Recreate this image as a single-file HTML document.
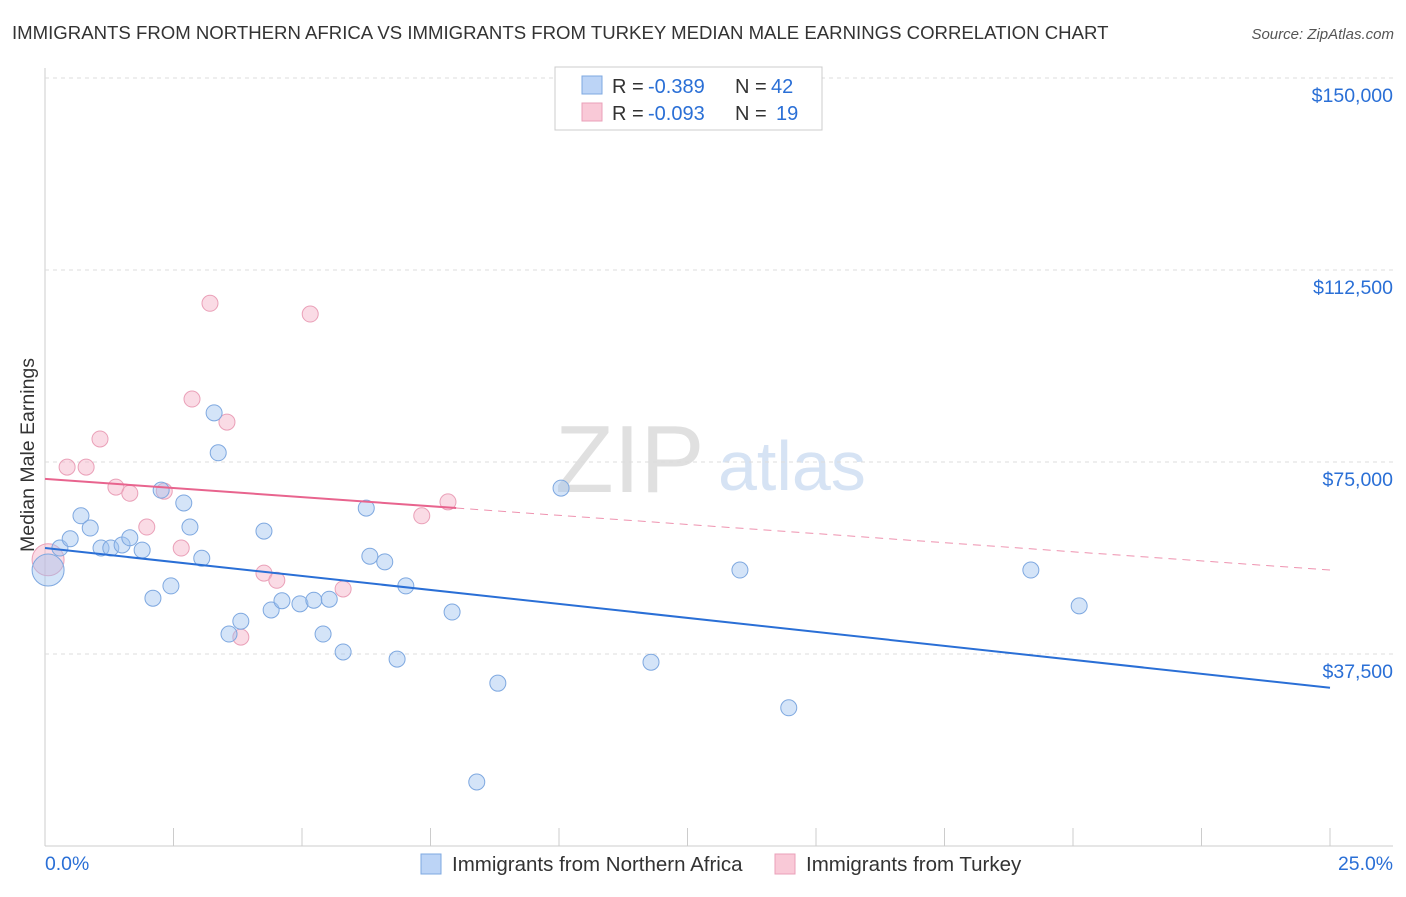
<!DOCTYPE html>
<html><head><meta charset="utf-8"><style>
body{margin:0;background:#fff;font-family:"Liberation Sans",sans-serif}
svg text{font-family:"Liberation Sans",sans-serif}
</style></head><body>
<svg id="chart" width="1406" height="892" viewBox="0 0 1406 892" xmlns="http://www.w3.org/2000/svg">
<text x="12" y="39" font-size="18.6" fill="#333">IMMIGRANTS FROM NORTHERN AFRICA VS IMMIGRANTS FROM TURKEY MEDIAN MALE EARNINGS CORRELATION CHART</text>
<text x="1394" y="39" font-size="15" fill="#555" text-anchor="end" font-style="italic">Source: ZipAtlas.com</text>
<text x="555" y="492" font-size="96" fill="#e0e0e0" font-family="Liberation Serif">ZIP</text>
<text x="718" y="490" font-size="70" fill="#d6e3f4">atlas</text>
<text transform="translate(34,455) rotate(-90)" font-size="19.5" fill="#333" text-anchor="middle">Median Male Earnings</text>
<g id="grid"></g><g id="pts"></g><g id="lines"></g>
<g>
<rect x="555" y="67" width="267" height="63" fill="#fff" stroke="#ccc"/>
<rect x="582" y="76" width="20" height="18" fill="#bcd4f6" stroke="#7ea8e0"/>
<rect x="582" y="103" width="20" height="18" fill="#f9c9d7" stroke="#eaa0b8"/>
<text x="612" y="93" font-size="20" fill="#333">R =</text><text x="648" y="93" font-size="20" fill="#2a6fd6">-0.389</text>
<text x="735" y="93" font-size="20" fill="#333">N =</text><text x="771" y="93" font-size="20" fill="#2a6fd6">42</text>
<text x="612" y="120" font-size="20" fill="#333">R =</text><text x="648" y="120" font-size="20" fill="#2a6fd6">-0.093</text>
<text x="735" y="120" font-size="20" fill="#333">N =</text><text x="776" y="120" font-size="20" fill="#2a6fd6">19</text>
</g>
<text x="45" y="870" font-size="19.4" fill="#2a6fd6">0.0%</text>
<text x="1393" y="870" font-size="19.4" fill="#2a6fd6" text-anchor="end">25.0%</text>
<g>
<rect x="421" y="854" width="20" height="20" fill="#bcd4f6" stroke="#7ea8e0"/>
<text x="452" y="871" font-size="20.5" fill="#333">Immigrants from Northern Africa</text>
<rect x="775" y="854" width="20" height="20" fill="#f9c9d7" stroke="#eaa0b8"/>
<text x="806" y="871" font-size="20.5" fill="#333">Immigrants from Turkey</text>
</g>
</svg>
<script>
const yTicks=[37500,75000,112500,150000];
const yTickLabels=["$37,500","$75,000","$112,500","$150,000"];
const blueX=[0.06,0.29,0.49,0.70,0.88,1.09,1.28,1.50,1.65,1.89,2.10,2.26,2.45,2.70,2.82,3.05,3.29,3.37,3.58,3.81,4.26,4.40,4.61,4.96,5.23,5.41,5.53,5.80,6.25,6.32,6.61,6.85,7.02,7.92,8.81,8.40,10.04,11.79,13.52,14.47,19.18,20.12];
const blueY=[53900,58200,60000,64500,62100,58200,58200,58800,60200,57800,48400,69500,50800,67000,62300,56200,84600,76800,41400,43900,61500,46100,47900,47300,48000,41400,48200,37900,66000,56600,55500,36500,50800,45700,31800,12500,69900,35900,53900,27000,53900,46900];
const pinkX=[0.06,0.43,0.80,1.07,1.38,1.65,1.98,2.32,2.65,2.86,3.21,3.54,3.81,4.26,4.51,5.16,5.80,7.33,7.84];
const pinkY=[55900,74000,74000,79500,70100,68900,62300,69300,58200,87300,106000,82800,40800,53300,51900,103900,50200,64500,67200];
const blueTrend=[58200,30900];
const pinkTrend=[71700,53900];
const X=v=>45+v/25*1285, Y=v=>846-v/37500*192;
const NS="http://www.w3.org/2000/svg";
function mk(t,a,p){const e=document.createElementNS(NS,t);for(const k in a)e.setAttribute(k,a[k]);p.appendChild(e);return e;}
const grid=document.getElementById('grid');
mk('line',{x1:45,y1:68,x2:45,y2:846,stroke:'#ccc'},grid);
mk('line',{x1:45,y1:846,x2:1393,y2:846,stroke:'#ccc'},grid);
for(let i=1;i<=10;i++){const l=mk('line',{x1:45+i*128.5,y1:828,x2:45+i*128.5,y2:846,stroke:'#ccc'},grid);

}
yTicks.forEach((v,i)=>{const l=mk('line',{x1:45,y1:Y(v),x2:1393,y2:Y(v),stroke:'#ddd','stroke-dasharray':'4,4'},grid);


const t=mk('text',{x:1393,y:Y(v)+24,'font-size':19.5,fill:'#2a6fd6','text-anchor':'end'},grid);t.textContent=yTickLabels[i];

});
const pts=document.getElementById('pts');
pinkX.forEach((x,i)=>{const c=mk('circle',{cx:X(x),cy:Y(pinkY[i]),r:i==0?16:8,fill:'rgba(245,175,198,0.45)',stroke:'#eaa0b8','stroke-width':1},pts);

});
blueX.forEach((x,i)=>{const c=mk('circle',{cx:X(x),cy:Y(blueY[i]),r:i==0?16:8,fill:'rgba(160,195,240,0.45)',stroke:'#7ea8e0','stroke-width':1},pts);

});
const lines=document.getElementById('lines');
const bl=mk('line',{x1:X(0),y1:Y(blueTrend[0]),x2:X(25),y2:Y(blueTrend[1]),stroke:'#2a6fd6','stroke-width':2},lines);


const pe=8.0, pm=pinkTrend[0]+(pinkTrend[1]-pinkTrend[0])*pe/25;
const pl=mk('line',{x1:X(0),y1:Y(pinkTrend[0]),x2:X(pe),y2:Y(pm),stroke:'#e8648e','stroke-width':2},lines);


const pd=mk('line',{x1:X(pe),y1:Y(pm),x2:X(25),y2:Y(pinkTrend[1]),stroke:'#e8648e','stroke-width':1,'stroke-dasharray':'8,6',opacity:0.7},lines);


</script>
</body></html>
